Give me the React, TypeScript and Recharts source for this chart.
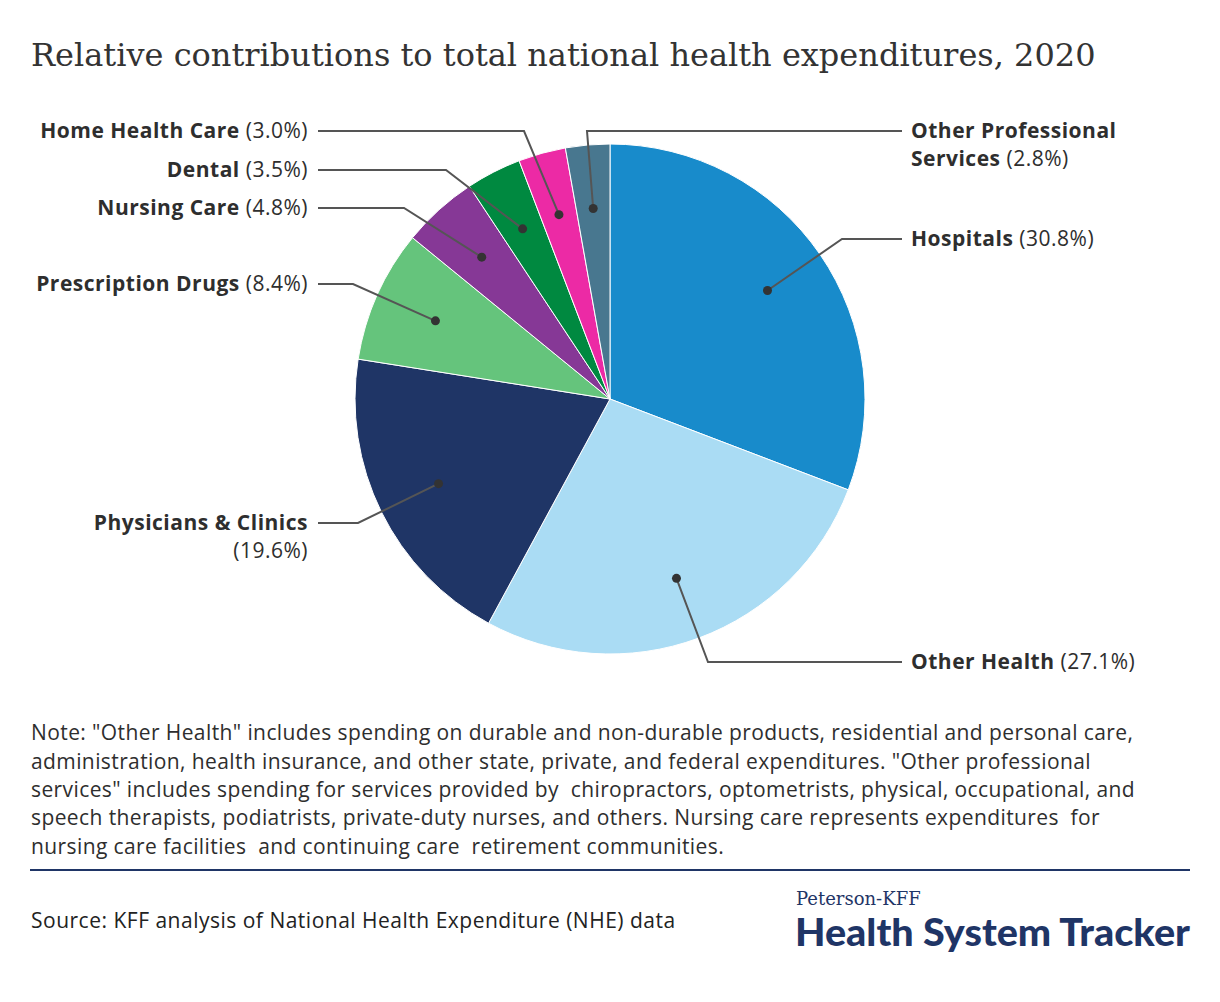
import React from "react";
import { PieChart, Pie, Cell } from "recharts";

const categories = [
  "Hospitals",
  "Other Health",
  "Physicians & Clinics",
  "Prescription Drugs",
  "Nursing Care",
  "Dental",
  "Home Health Care",
  "Other Professional Services",
];
const shares = [30.8, 27.1, 19.6, 8.4, 4.8, 3.5, 3.0, 2.8];
const sliceColors = [
  "#188bcb",
  "#aadcf4",
  "#1f3566",
  "#65c47c",
  "#863896",
  "#008940",
  "#ec2aa5",
  "#48778f",
];

const title = "Relative contributions to total national health expenditures, 2020";
const noteLines = [
  'Note: "Other Health" includes spending on durable and non-durable products, residential and personal care,',
  'administration, health insurance, and other state, private, and federal expenditures. "Other professional',
  'services" includes spending for services provided by  chiropractors, optometrists, physical, occupational, and',
  "speech therapists, podiatrists, private-duty nurses, and others. Nursing care represents expenditures  for",
  "nursing care facilities  and continuing care  retirement communities.",
];
const sourceText = "Source: KFF analysis of National Health Expenditure (NHE) data";

// label layout (positions of label text / elbow), not data
const labelLayout = [
  { side: "right", y: 239, elbowX: 842, split: null },
  { side: "right", y: 662, elbowX: 708, split: null },
  { side: "left", y: 523, elbowX: 358, split: "pct" },
  { side: "left", y: 284, elbowX: 353, split: null },
  { side: "left", y: 208, elbowX: 404, split: null },
  { side: "left", y: 170, elbowX: 446, split: null },
  { side: "left", y: 131, elbowX: 524, split: null },
  { side: "right", y: 131, elbowX: 587, split: "name" },
];

const data = categories.map((name, i) => ({ name, value: shares[i] }));

const FONT = "'Open Sans', sans-serif";
const TXT = "#2e2e2e";
const LFS = 21;
const LLS = 0.5;

const renderLabel = (props: any) => {
  const { cx, cy, midAngle, outerRadius, index, value } = props;
  const L = labelLayout[index];
  const RAD = Math.PI / 180;
  const r = outerRadius * 0.75;
  const px = cx + r * Math.cos(-midAngle * RAD);
  const py = cy + r * Math.sin(-midAngle * RAD);
  const right = L.side === "right";
  const endX = right ? 902 : 318;
  const textX = right ? 911 : 308;
  const pct = `(${Number(value).toFixed(1)}%)`;
  const name = categories[index];
  const common = { fontFamily: FONT, fontSize: LFS, fill: TXT, letterSpacing: LLS };
  let textEl;
  if (L.split === "name") {
    textEl = (
      <text x={textX} y={L.y} dy="0.35em" textAnchor="start" {...common}>
        <tspan fontWeight={700}>Other Professional</tspan>
        <tspan x={textX} dy={28} fontWeight={700}>Services</tspan>
        <tspan fontWeight={400}> {pct}</tspan>
      </text>
    );
  } else if (L.split === "pct") {
    textEl = (
      <text x={textX} y={L.y} dy="0.35em" textAnchor="end" {...common}>
        <tspan fontWeight={700}>{name}</tspan>
        <tspan x={textX} dy={28} fontWeight={400}>{pct}</tspan>
      </text>
    );
  } else {
    textEl = (
      <text x={textX} y={L.y} dy="0.35em" textAnchor={right ? "start" : "end"} {...common}>
        <tspan fontWeight={700}>{name}</tspan>
        <tspan fontWeight={400}> {pct}</tspan>
      </text>
    );
  }
  return (
    <g key={`lbl-${index}`}>
      <polyline
        points={`${px},${py} ${L.elbowX},${L.y} ${endX},${L.y}`}
        fill="none"
        stroke="#555"
        strokeWidth={2}
      />
      <circle cx={px} cy={py} r={4.5} fill="#333" />
      {textEl}
    </g>
  );
};

export default function App() {
  return (
    <div
      style={{
        position: "absolute",
        left: 0,
        top: 0,
        width: 1220,
        height: 1002,
        background: "#fff",
        overflow: "hidden",
      }}
    >
      <div style={{ position: "absolute", left: 0, top: 0 }}>
        <PieChart width={1220} height={1002} margin={{ top: 0, right: 0, bottom: 0, left: 0 }}>
          <Pie
            data={data}
            dataKey="value"
            nameKey="name"
            cx={610}
            cy={399}
            outerRadius={255}
            startAngle={90}
            endAngle={-270}
            stroke="#fff"
            strokeWidth={1}
            label={renderLabel}
            labelLine={false}
            isAnimationActive={false}
          >
            {data.map((d, i) => (
              <Cell key={d.name} fill={sliceColors[i]} />
            ))}
          </Pie>
        </PieChart>
      </div>
      <svg width={1220} height={1002} style={{ position: "absolute", left: 0, top: 0, pointerEvents: "none" }}>
        <text x={31} y={66} fontFamily="'DejaVu Serif', serif" fontSize={32} fill="#333">
          {title}
        </text>
        {noteLines.map((t, i) => (
          <text key={i} x={31} y={733 + i * 28.3} dy="0.35em" fontFamily={FONT} fontSize={21} letterSpacing={0.4} fill={TXT} style={{ whiteSpace: "pre" }}>
            {t}
          </text>
        ))}
        <line x1={30} x2={1190} y1={870} y2={870} stroke="#1f3566" strokeWidth={2} />
        <text x={31} y={921} dy="0.35em" fontFamily={FONT} fontSize={21} letterSpacing={0.5} fill="#222">
          {sourceText}
        </text>
        <text x={796} y={905} fontFamily="'DejaVu Serif', serif" fontSize={18} fill="#1f3566">
          Peterson-KFF
        </text>
        <text x={795} y={946} textLength={395} lengthAdjust="spacingAndGlyphs" fontFamily="Lato, sans-serif" fontWeight={900} fontSize={38} fill="#1f3566">
          Health System Tracker
        </text>
      </svg>
    </div>
  );
}
